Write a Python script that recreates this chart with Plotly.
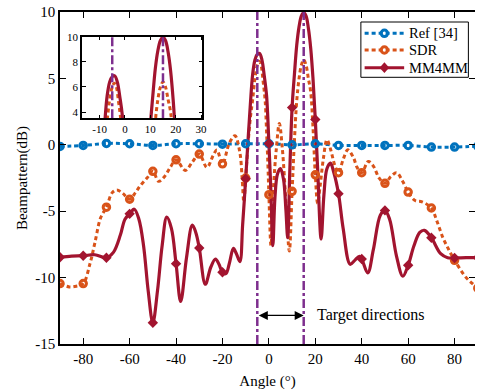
import plotly.graph_objects as go

# ---------------- data ----------------
marker_angles = [-90, -80, -70, -60, -50, -40, -30, -20, -10, 0, 10, 20, 30, 40, 50, 60, 70, 80, 90]

ref_vals = [-0.12, -0.05, 0.1, 0.08, -0.05, 0.08, 0.08, 0.05, 0.08, 0.08, 0.0, 0.08,
            -0.05, -0.05, -0.05, -0.05, -0.17, -0.17, -0.1]

sdr_marker_vals = [-10.45, -10.45, -4.7, -4.1, -2.0, -1.13, -0.7, -1.43, -2.5, -3.76,
                   -3.5, -2.26, -2.1, -2.1, -2.9, -3.56, -4.76, -8.7, -10.8]
sdr_extra_angles = [-86, -83, -77, -75, -72.5, -67.5, -65.5, -63, -57.5, -55.5, -52.5,
                    -47.5, -45, -42.5, -36, -33, -26.7, -24, -22.4, -17, -14.6, -12.5,
                    -11.5, -10.8, -9, -8, -7, -6, -5, -4.2, -3.5, -2.5, -1.6, -1, -0.4,
                    0.9, 2, 3.2, 4.5, 5.8, 7.3, 8.8, 11, 12, 13, 14, 15, 16, 17, 18, 19,
                    21, 22, 23.5, 25, 26.5, 28.5, 32, 34, 36.5, 38, 42.8, 45, 47.5, 52.5,
                    55, 57.5, 63, 66, 72.5, 75, 77.5, 85, 88]
sdr_extra_vals = [-10.7, -10.65, -8.9, -7.4, -5.5, -3.6, -3.4, -3.65, -3.6, -3.1, -2.5,
                  -2.75, -2.4, -1.7, -1.93, -1.3, -1.7, -0.8, -0.4, 0.15, 0.68, -0.6,
                  -2.6, -4.3, 0.0, 2.0, 3.4, 5.0, 6.0, 6.3, 6.1, 4.8, 3.3, 1.0, -1.6,
                  -7.6, -3.2, -0.3, 1.6, -0.3, -4.2, -8.0, 0.3, 3.3, 5.0, 6.0, 6.4, 6.0,
                  5.0, 4.0, 1.3, -4.4, -3.2, -1.0, 0.38, -0.3, -1.6, -1.1, -0.38, -1.0,
                  -1.7, -1.25, -1.6, -2.5, -2.4, -2.1, -2.7, -4.2, -4.3, -5.8, -7.0,
                  -7.9, -10.0, -10.5]

mm_marker_vals = [-8.47, -8.35, -8.5, -5.2, -13.4, -8.95, -7.77, -9.6, -2.56, 0.1,
                  2.8, 1.9, -3.68, -8.6, -4.94, -9.07, -7.0, -8.52, -8.5]
mm_extra_angles = [-85, -75, -67, -64, -62, -58, -56, -54, -52, -48, -46, -44, -42, -38,
                   -35.5, -33, -31.5, -27.4, -25, -23, -21.5, -18.5, -17, -15.3, -14,
                   -12.5, -11.3, -9, -8, -7, -6, -5, -4, -3, -2, -1, 0.8, 1.7, 2.6, 3.7,
                   5, 6.3, 7.3, 8.1, 9, 11, 12, 13, 14, 15, 16, 17, 18, 19, 21, 22.5,
                   23.7, 25, 26.5, 28, 32, 35, 37, 39, 42.6, 45, 48, 52, 55, 57.7, 62.5,
                   65, 67, 74, 77, 85]
mm_extra_vals = [-8.38, -8.28, -8.1, -6.8, -5.6, -4.85, -5.6, -7.6, -11.0, -11.0, -7.6,
                 -5.45, -6.3, -11.8, -8.5, -6.05, -6.6, -10.5, -9.2, -8.6, -9.0, -9.7,
                 -8.9, -7.8, -8.2, -8.8, -6.0, 0.3, 3.0, 5.3, 6.4, 6.82, 6.88, 6.4, 5.2,
                 3.7, -3.2, -7.6, -4.0, -2.2, -1.8, -2.6, -4.8, -7.0, -2.0, 5.3, 7.5,
                 8.9, 9.7, 9.95, 9.7, 8.8, 7.3, 5.0, -1.8, -7.1, -3.8, -1.8, -1.38,
                 -2.1, -6.3, -9.0, -8.7, -8.4, -9.65, -7.9, -5.3, -5.6, -8.4, -9.9,
                 -7.6, -6.6, -6.44, -8.2, -8.5, -8.5]

target_dirs = [-5, 15]

series_names = ["Ref [34]", "SDR", "MM4MM"]

x_tickvals = [-80, -60, -40, -20, 0, 20, 40, 60, 80]
x_ticktext = ["-80", "-60", "-40", "-20", "0", "20", "40", "60", "80"]
y_tickvals = [-15, -10, -5, 0, 5, 10]
y_ticktext = ["-15", "-10", "-5", "0", "5", "10"]
inset_x_tickvals = [-10, 0, 10, 20, 30]
inset_x_ticktext = ["-10", "0", "10", "20", "30"]
inset_y_tickvals = [4, 6, 8, 10]
inset_y_ticktext = ["4", "6", "8", "10"]

# ---------------- helpers ----------------
def merged(a1, v1, a2, v2):
    pts = sorted(zip(list(a1) + list(a2), list(v1) + list(v2)))
    return [p[0] for p in pts], [p[1] for p in pts]

sdr_x, sdr_y = merged(marker_angles, sdr_marker_vals, sdr_extra_angles, sdr_extra_vals)
mm_x, mm_y = merged(marker_angles, mm_marker_vals, mm_extra_angles, mm_extra_vals)

C_REF = "#0072BD"
C_SDR = "#D95319"
C_MM = "#A2142F"
C_PUR = "#7E2F8E"
FONT = "Liberation Serif, Times New Roman, serif"
DOT = "4px,3px"

fig = go.Figure()

# main curves
fig.add_trace(go.Scatter(x=marker_angles, y=ref_vals, mode="lines",
                         line=dict(color=C_REF, width=3, dash=DOT, shape="spline"), hoverinfo="skip"))
fig.add_trace(go.Scatter(x=sdr_x, y=sdr_y, mode="lines",
                         line=dict(color=C_SDR, width=3, dash=DOT, shape="spline"), hoverinfo="skip"))
fig.add_trace(go.Scatter(x=mm_x, y=mm_y, mode="lines",
                         line=dict(color=C_MM, width=3.2, shape="spline"), hoverinfo="skip"))

ref_marker = dict(symbol="circle-open", size=6.5, color=C_REF, line=dict(width=3, color=C_REF))
sdr_marker = dict(symbol="circle-open", size=6.5, color=C_SDR, line=dict(width=3, color=C_SDR))
mm_marker = dict(symbol="diamond", size=8, color=C_MM, line=dict(width=0))

fig.add_trace(go.Scatter(x=marker_angles, y=ref_vals, mode="markers", marker=ref_marker))
fig.add_trace(go.Scatter(x=marker_angles, y=sdr_marker_vals, mode="markers", marker=sdr_marker))
fig.add_trace(go.Scatter(x=marker_angles, y=mm_marker_vals, mode="markers", marker=mm_marker))

# target direction lines (main)
for t in target_dirs:
    fig.add_trace(go.Scatter(x=[t, t], y=[-15, 10], mode="lines",
                             line=dict(color=C_PUR, width=2.5, dash="dashdot"), hoverinfo="skip"))

# inset
fig.add_trace(go.Scatter(x=sdr_x, y=sdr_y, mode="lines", xaxis="x2", yaxis="y2",
                         line=dict(color=C_SDR, width=3, dash=DOT, shape="spline")))
fig.add_trace(go.Scatter(x=mm_x, y=mm_y, mode="lines", xaxis="x2", yaxis="y2",
                         line=dict(color=C_MM, width=3.2, shape="spline")))
for t in target_dirs:
    fig.add_trace(go.Scatter(x=[t, t], y=[3.5, 10], mode="lines", xaxis="x2", yaxis="y2",
                             line=dict(color=C_PUR, width=2.5, dash="dashdot")))

# invisible trace for right-side ticks
fig.add_trace(go.Scatter(x=[500], y=[500], mode="markers", yaxis="y3", marker=dict(opacity=0)))

axis_common = dict(showgrid=False, zeroline=False, showline=True, linecolor="black", linewidth=1.5,
                   ticks="inside", tickcolor="black", tickwidth=1.2)

# ---- manual legend (compact, MATLAB-like) ----
L, R, T, B = 60, 480, 12, 344
def px(xp):
    return (xp - L) / (R - L)
def py(yp):
    return (B - yp) / (B - T)

shapes = [dict(type="rect", xref="paper", yref="paper", x0=px(364.5), x1=px(473.3), y0=py(77.3), y1=py(22),
               line=dict(color="black", width=1), fillcolor="white", layer="above")]
annotations = []
legend_rows = [33.3, 50.0, 67.7]
legend_styles = [(C_REF, DOT, "circle"), (C_SDR, DOT, "circle"), (C_MM, "solid", "diamond")]
for name, yrow, (col, dash, sym) in zip(series_names, legend_rows, legend_styles):
    shapes.append(dict(type="line", xref="paper", yref="paper", x0=px(368.3), x1=px(408.3),
                       y0=py(yrow), y1=py(yrow), line=dict(color=col, width=3, dash=dash), layer="above"))
    if sym == "circle":
        shapes.append(dict(type="circle", xref="paper", yref="paper", xsizemode="pixel", ysizemode="pixel",
                           xanchor=px(388.3), yanchor=py(yrow), x0=-3.25, x1=3.25, y0=-3.25, y1=3.25,
                           line=dict(color=col, width=3), fillcolor="rgba(0,0,0,0)", layer="above"))
    else:
        shapes.append(dict(type="path", xref="paper", yref="paper", xsizemode="pixel", ysizemode="pixel",
                           xanchor=px(388.3), yanchor=py(yrow), path="M0,5.4 L4.8,0 L0,-5.4 L-4.8,0 Z",
                           line=dict(color=col, width=0), fillcolor=col, layer="above"))
    annotations.append(dict(x=px(411), y=py(yrow), xref="paper", yref="paper", text=name, showarrow=False,
                            xanchor="left", yanchor="middle", font=dict(size=14.5, family=FONT)))

annotations += [
    dict(x=target_dirs[1], y=-12.85, ax=target_dirs[0], ay=-12.85, xref="x", yref="y", axref="x", ayref="y",
         text="", showarrow=True, arrowhead=2, startarrowhead=2, arrowside="end+start", arrowsize=1.5,
         startarrowsize=1.5, arrowwidth=1.2, arrowcolor="black"),
    dict(x=19.8, y=-12.85, xref="x", yref="y", text="Target directions", showarrow=False,
         xanchor="left", yanchor="middle", font=dict(size=16, family=FONT)),
]

fig.update_layout(
    width=480, height=392,
    margin=dict(l=L, r=480 - R, t=T, b=392 - B),
    paper_bgcolor="white", plot_bgcolor="white",
    showlegend=False,
    font=dict(family=FONT, color="black", size=15),
    xaxis=dict(range=[-90, 88.8], tickvals=x_tickvals, ticktext=x_ticktext, ticklen=6, mirror="ticks",
               title=dict(text="Angle (°)", font=dict(size=15), standoff=10), tickfont=dict(size=15), **axis_common),
    yaxis=dict(range=[-15, 10], tickvals=y_tickvals, ticktext=y_ticktext, ticklen=6,
               title=dict(text="Beampattern(dB)", font=dict(size=15), standoff=4), tickfont=dict(size=15), **axis_common),
    yaxis3=dict(range=[-15, 10], overlaying="y", side="right", tickvals=y_tickvals, ticks="inside", ticklen=6,
                tickcolor="black", tickwidth=1.2, showticklabels=False, showgrid=False, zeroline=False, showline=False),
    xaxis2=dict(domain=[0.0531, 0.3429], anchor="y2", range=[-16.9, 30.5], tickvals=inset_x_tickvals,
                ticktext=inset_x_ticktext, ticklen=4, mirror="ticks", tickfont=dict(size=11), **axis_common),
    yaxis2=dict(domain=[0.6798, 0.9256], anchor="x2", range=[3.5, 10], tickvals=inset_y_tickvals,
                ticktext=inset_y_ticktext, ticklen=4, mirror="ticks", tickfont=dict(size=11), **axis_common),
    shapes=shapes,
    annotations=annotations,
)

fig.write_html("out.html")
